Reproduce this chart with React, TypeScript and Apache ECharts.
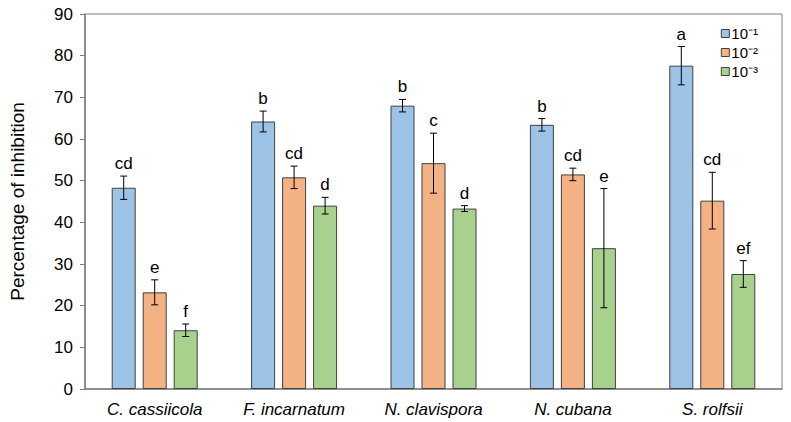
import React, { useEffect, useRef } from "react";
import * as echarts from "echarts";

const categories = ["C. cassiicola", "F. incarnatum", "N. clavispora", "N. cubana", "S. rolfsii"];
const seriesNames = ["10⁻¹", "10⁻²", "10⁻³"];
const values1 = [48.3, 64.2, 68.0, 63.4, 77.6];
const values2 = [23.2, 50.8, 54.2, 51.5, 45.2];
const values3 = [14.1, 44.0, 43.3, 33.8, 27.6];
const errors1 = [2.8, 2.5, 1.5, 1.5, 4.6];
const errors2 = [3.0, 2.7, 7.2, 1.5, 6.8];
const errors3 = [1.5, 2.0, 0.7, 14.3, 3.2];
const letters1 = ["cd", "b", "b", "b", "a"];
const letters2 = ["e", "cd", "c", "cd", "cd"];
const letters3 = ["f", "d", "d", "e", "ef"];
const yTicks = [0, 10, 20, 30, 40, 50, 60, 70, 80, 90];

const colors = ["#9DC3E6", "#F4B183", "#A9D18E"];
const BAR_W = 24;
const BAR_GAP = 7;

export default function App() {
  const ref = useRef<HTMLDivElement>(null);
  useEffect(() => {
    if (!ref.current) return;
    const chart = echarts.init(ref.current, undefined, { renderer: "svg" });
    const vals = [values1, values2, values3];
    const errs = [errors1, errors2, errors3];
    const lets = [letters1, letters2, letters3];
    const font = "'Liberation Sans', Arial, sans-serif";

    const barSeries = vals.map((v, i) => ({
      type: "bar",
      name: seriesNames[i],
      data: v,
      barWidth: BAR_W,
      barGap: `${(BAR_GAP / BAR_W) * 100}%`,
      itemStyle: { color: colors[i], borderColor: "#404040", borderWidth: 1 },
      z: 2,
    }));

    const errSeries = vals.map((v, i) => ({
      type: "custom",
      name: "err" + i,
      data: v.map((val, k) => [k, val, errs[i][k]]),
      z: 5,
      renderItem: (params: any, api: any) => {
        const k = api.value(0);
        const val = api.value(1);
        const e = api.value(2);
        const off = (i - 1) * (BAR_W + BAR_GAP);
        const top = api.coord([k, val + e]);
        const bot = api.coord([k, val - e]);
        const x = top[0] + off;
        const cap = 3.5;
        const st = { stroke: "#000", lineWidth: 1 };
        return {
          type: "group",
          children: [
            { type: "line", shape: { x1: x, y1: top[1], x2: x, y2: bot[1] }, style: st },
            { type: "line", shape: { x1: x - cap, y1: top[1], x2: x + cap, y2: top[1] }, style: st },
            { type: "line", shape: { x1: x - cap, y1: bot[1], x2: x + cap, y2: bot[1] }, style: st },
            {
              type: "text",
              x: x,
              y: top[1] - 4,
              style: {
                text: lets[i][k],
                fill: "#000",
                font: `17px ${font}`,
                align: "center",
                verticalAlign: "bottom",
              },
            },
          ],
        };
      },
    }));

    chart.setOption({
      animation: false,
      textStyle: { fontFamily: font },
      grid: {
        left: 83,
        right: 9,
        top: 14,
        bottom: 33,
        show: true,
        borderColor: "#7f7f7f",
        borderWidth: 1,
        backgroundColor: "#fff",
      },
      legend: {
        data: seriesNames,
        orient: "vertical",
        right: 28,
        top: 21,
        itemWidth: 8,
        itemHeight: 8,
        itemGap: 4,
        icon: "rect",
        textStyle: { fontSize: 15, color: "#000", padding: [0, 0, 0, -3] },
        itemStyle: { borderColor: "#404040", borderWidth: 1 },
      },
      xAxis: {
        type: "category",
        data: categories,
        axisLine: { lineStyle: { color: "#7f7f7f", width: 1.5 } },
        axisTick: { show: false },
        axisLabel: { fontSize: 17, fontStyle: "italic", color: "#000", margin: 12 },
      },
      yAxis: {
        type: "value",
        min: yTicks[0],
        max: yTicks[yTicks.length - 1],
        interval: 10,
        name: "Percentage of inhibition",
        nameLocation: "middle",
        nameGap: 58,
        nameTextStyle: { fontSize: 19, color: "#000" },
        axisLine: { show: true, lineStyle: { color: "#7f7f7f", width: 1.5 } },
        axisTick: { show: true, length: 5, lineStyle: { color: "#7f7f7f" } },
        axisLabel: { fontSize: 17, color: "#000", margin: 12 },
        splitLine: { show: false },
      },
      series: [...barSeries, ...errSeries],
    });
    return () => chart.dispose();
  }, []);
  return <div ref={ref} style={{ position: "fixed", left: 0, top: 0, width: 791, height: 422, background: "#fff" }} />;
}
